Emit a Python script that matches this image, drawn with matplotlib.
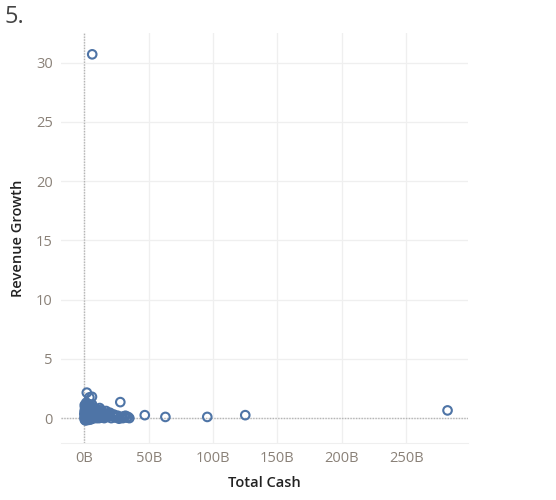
import matplotlib.pyplot as plt
from matplotlib.ticker import FuncFormatter

# Total cash (billions) and revenue growth
cash = [6.2, 2.0, 4.0, 6.0, 28.0, 47.0, 63.0, 95.5, 125.0, 282.0,
        0.2, 0.5, 0.8, 1.0, 1.2, 1.5, 1.8, 2.0, 2.2, 2.5,
        2.8, 3.0, 3.2, 3.5, 3.8, 4.0, 4.3, 4.6, 5.0, 5.3,
        5.6, 6.0, 6.3, 6.8, 7.2, 7.6, 8.0, 8.5, 9.0, 9.5,
        10.0, 10.5, 11.0, 12.0, 12.5, 13.0, 14.0, 15.0, 16.0, 17.0,
        18.0, 19.5, 21.0, 22.5, 24.0, 25.5, 27.0, 29.0, 31.0, 33.0,
        35.0, 0.3, 0.6, 1.1, 1.4, 2.4, 3.3, 4.8, 5.8, 7.0,
        8.8, 11.5, 13.5, 20.0, 23.0, 30.0, 32.0, 0.1, 0.4, 1.6, 2.6,
        0.7, 1.3, 1.9, 2.9, 3.6, 4.2, 5.1, 5.9, 6.6, 7.4,
        8.2, 9.2, 10.2, 0.9, 1.7, 2.3, 3.1, 3.9, 4.5, 5.5,
        6.1, 7.8, 9.8, 11.2, 12.8, 14.5, 16.5, 0.5, 1.5, 2.7,
        3.4, 4.4, 5.2, 6.5, 8.4, 10.8, 15.5, 18.5, 26.0, 34.0]
growth = [30.7, 2.15, 1.75, 1.8, 1.35, 0.25, 0.1, 0.1, 0.25, 0.65,
          0.0, 0.1, -0.1, 0.3, 0.5, 0.2, 0.8, 1.0, 0.05, 0.4,
          1.2, 0.6, -0.15, 0.9, 0.3, 1.1, 0.0, 0.7, 0.45, 1.0,
          0.15, 0.6, -0.05, 0.3, 0.85, 0.1, 0.5, 0.2, 0.7, 0.0,
          0.35, 0.15, 0.55, 0.85, 0.1, 0.3, 0.05, 0.4, 0.2, 0.6,
          0.1, 0.25, 0.0, 0.15, 0.05, 0.1, -0.05, 0.1, 0.15, 0.05,
          0.0, 0.6, 0.9, -0.2, 0.7, -0.1, 0.45, 0.25, 0.95, 0.05,
          0.4, 0.0, 0.65, 0.45, 0.3, 0.0, 0.2, 0.35, 1.1, 1.3, 0.15,
          0.25, 0.55, 0.0, 0.75, 0.15, 0.5, 0.8, 0.35, 0.6, 0.2,
          0.65, 0.3, 0.5, 0.75, -0.05, 0.35, 0.95, 0.55, -0.1, 0.3,
          1.15, 0.4, 0.6, 0.25, 0.45, 0.15, 0.35, -0.15, 0.95, 0.6,
          0.05, 0.85, -0.1, 0.45, 0.1, 0.7, 0.0, 0.4, 0.2, 0.1]

x_ticks = [0, 50, 100, 150, 200, 250]
y_ticks = [0, 5, 10, 15, 20, 25, 30]

plt.rcParams['font.family'] = ['Open Sans', 'DejaVu Sans']

fig = plt.figure(figsize=(5.56, 5.0), dpi=100)
ax = fig.add_axes([0.110, 0.114, 0.732, 0.820])

# light grid and dotted zero lines
for t in x_ticks:
    ax.axvline(t, color='#efefef', lw=0.9, zorder=0)
for t in y_ticks:
    ax.axhline(t, color='#efefef', lw=0.9, zorder=0)
ax.axhline(0, color='#b5b5b5', lw=1, ls=(0, (1, 1)), zorder=1)
ax.axvline(0, color='#b5b5b5', lw=1, ls=(0, (1, 1)), zorder=1)

# hollow circles, overlapping outlines fill in the dense cluster
ax.scatter(cash, growth, s=38, facecolors='none', edgecolors='#4e74a6',
           linewidths=1.5, zorder=3)

ax.set_xlim(-17.9, 298)
ax.set_ylim(-2.1, 32.5)
ax.set_xticks(x_ticks)
ax.set_yticks(y_ticks)
ax.xaxis.set_major_formatter(FuncFormatter(lambda v, p: f"{v:.0f}B"))
ax.tick_params(length=0, labelsize=10.5, labelcolor='#8a8178', pad=6)

for s in ['top', 'right', 'left']:
    ax.spines[s].set_visible(False)
ax.spines['bottom'].set_color('#efefef')

ax.set_xlabel('Total Cash', fontsize=10.5, fontweight='semibold', color='#222222', labelpad=7)
ax.set_ylabel('Revenue Growth', fontsize=10.5, fontweight='semibold', color='#222222', labelpad=8)

fig.text(0.008, 0.99, '5.', fontsize=17, color='#444444', va='top', ha='left')

fig.savefig('out.png', dpi=100)
